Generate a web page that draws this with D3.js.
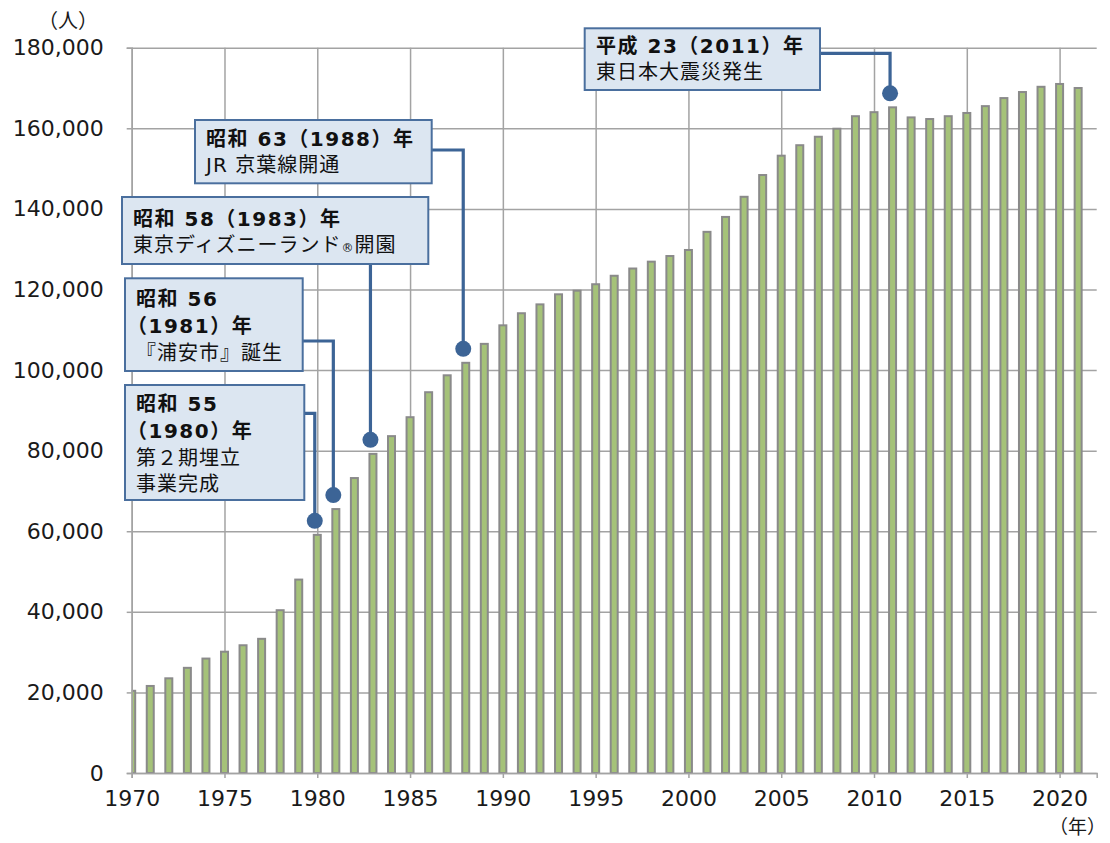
<!DOCTYPE html>
<html><head><meta charset="utf-8">
<script src="https://cdn.jsdelivr.net/npm/d3@7"></script>
<style>
html,body{margin:0;padding:0;background:#fff;}
svg{display:block;}
</style></head>
<body>
<svg id="chart" width="1110" height="843"></svg>
<script>
// ---- data ----
const years = [1970,1971,1972,1973,1974,1975,1976,1977,1978,1979,
  1980,1981,1982,1983,1984,1985,1986,1987,1988,1989,
  1990,1991,1992,1993,1994,1995,1996,1997,1998,1999,
  2000,2001,2002,2003,2004,2005,2006,2007,2008,2009,
  2010,2011,2012,2013,2014,2015,2016,2017,2018,2019,
  2020,2021];
const population = [20400,21600,23500,26100,28400,30100,31700,33300,40400,48000,
  59100,65500,73200,79200,83600,88300,94500,98700,101800,106500,
  111100,114100,116300,118800,119700,121300,123400,125200,126900,128300,
  129800,134300,138000,143000,148400,153200,155800,157900,159900,163000,
  164000,165200,162700,162300,163000,163800,165500,167500,169000,170300,
  171000,170000];
const yTicks = [0,20000,40000,60000,80000,100000,120000,140000,160000,180000];
const xTicks = [1970,1975,1980,1985,1990,1995,2000,2005,2010,2015,2020];
const yUnit = "（人）";
const xUnit = "（年）";
const annYears = [1980, 1981, 1983, 1988, 2011];
const annTitles = [["昭和 55", "（1980）年"], ["昭和 56", "（1981）年"], ["昭和 58（1983）年"], ["昭和 63（1988）年"], ["平成 23（2011）年"]];
const annNotes = [["第２期埋立", "事業完成"], ["『浦安市』誕生"], ["東京ディズニーランド®開園"], ["JR 京葉線開通"], ["東日本大震災発生"]];

// ---- layout ----
const annLayout = [
  {box:[125,385,304.3,500], conn:"right", cy:413.3, tx:136, base:[410.5,437.5,465,490.5]},
  {box:[125,278.3,302.7,371], conn:"right", cy:341, tx:136, base:[306,333,360]},
  {box:[122,197,428.3,264], conn:"bottom", tx:133, base:[226,251.5]},
  {box:[195,120,431.7,183.3], conn:"right", cy:150, tx:206, base:[146,172]},
  {box:[584.7,28.3,820,90], conn:"right", cy:53.3, tx:596, base:[52.5,79]}
];
const L = 131.7, R = 1096.7, T = 47.7, B = 773;
const numFont = "'DejaVu Sans', 'Noto Sans CJK JP', sans-serif";
const jpFont = "'DejaVu Sans', 'Noto Sans CJK JP', sans-serif";
const gridColor = "#a3a3a3";

const svg = d3.select("#chart");
const x = d3.scaleLinear().domain([1970, 2022]).range([L, R]);
const y = d3.scaleLinear().domain([0, 180000]).range([B, T]);

// clip
svg.append("defs").append("clipPath").attr("id","plotclip")
  .append("rect").attr("x", L).attr("y", 0).attr("width", R - L).attr("height", B);

// gridlines
const gy = svg.append("g").attr("transform", `translate(${L},0)`)
  .call(d3.axisLeft(y).tickValues(yTicks).tickSize(-(R - L)).tickFormat(""));
gy.select(".domain").remove();
gy.selectAll("line").attr("stroke", gridColor).attr("stroke-width", 1.5);
const gx = svg.append("g").attr("transform", `translate(0,${B})`)
  .call(d3.axisBottom(x).tickValues(xTicks).tickSize(-(B - T)).tickFormat(""));
gx.select(".domain").remove();
gx.selectAll("line").attr("stroke", gridColor).attr("stroke-width", 1.5);

// bars
const bw = 7;
svg.append("g").attr("clip-path","url(#plotclip)")
  .selectAll("rect").data(years).join("rect")
  .attr("x", (d) => x(d) - bw / 2)
  .attr("width", bw)
  .attr("y", (d, i) => y(population[i]))
  .attr("height", (d, i) => B - y(population[i]))
  .attr("fill", "#a5c279")
  .attr("stroke", "#8a8a8a")
  .attr("stroke-width", 2);

// axes
const ay = svg.append("g").attr("transform", `translate(${L},0)`)
  .call(d3.axisLeft(y).tickValues(yTicks).tickSize(5).tickPadding(23).tickFormat(d3.format(",")));
ay.select(".domain").attr("stroke", gridColor).attr("stroke-width", 1.5);
ay.selectAll("line").attr("stroke", gridColor).attr("stroke-width", 1.5);
ay.selectAll("text").attr("font-family", numFont).attr("font-size", 22).attr("fill", "#1a1a1a");

const ax = svg.append("g").attr("transform", `translate(0,${B})`)
  .call(d3.axisBottom(x).tickValues(xTicks).tickSize(5).tickPadding(12).tickFormat(d3.format("d")));
ax.select(".domain").attr("stroke", gridColor).attr("stroke-width", 1.5);
ax.selectAll("line").attr("stroke", gridColor).attr("stroke-width", 1.5);
ax.selectAll("text").attr("font-family", numFont).attr("font-size", 22).attr("fill", "#1a1a1a");

svg.append("text").attr("x", 68).attr("y", 28).attr("text-anchor","middle")
  .attr("font-family", jpFont).attr("font-size", 20).attr("fill","#1a1a1a").text(yUnit);
svg.append("text").attr("x", 1106).attr("y", 834).attr("text-anchor","end")
  .attr("font-family", jpFont).attr("font-size", 19).attr("fill","#1a1a1a").text(xUnit);

// annotations
const annColor = "#3c6496";
const ann = svg.append("g");
annYears.forEach((yr, i) => {
  const lay = annLayout[i];
  const v = population[years.indexOf(yr)];
  const dx = x(yr) - 2.5, dy = y(v) - 14;
  const [bx0, by0, bx1, by1] = lay.box;
  let path;
  if (lay.conn === "right") path = `M${bx1},${lay.cy}H${dx}V${dy}`;
  else path = `M${dx},${by1}V${dy}`;
  ann.append("path").attr("d", path).attr("fill","none").attr("stroke", annColor).attr("stroke-width", 3.2);
  ann.append("rect").attr("x", bx0).attr("y", by0).attr("width", bx1 - bx0).attr("height", by1 - by0)
    .attr("fill", "#dce6f1").attr("stroke", "#4a6f9e").attr("stroke-width", 2);
  ann.append("circle").attr("cx", dx).attr("cy", dy).attr("r", 8).attr("fill", annColor);
  const lines = annTitles[i].map(t => ({t, bold:true})).concat(annNotes[i].map(t => ({t, bold:false})));
  lines.forEach((ln, j) => {
    const txt = ann.append("text")
      .attr("x", lay.tx + (ln.t.startsWith("（") ? -9 : 0))
      .attr("y", lay.base[j])
      .attr("font-family", jpFont).attr("font-size", 20)
      .attr("font-weight", ln.bold ? "bold" : "normal")
      .attr("letter-spacing", ln.bold ? 1.5 : 1)
      .attr("fill", "#111");
    if (ln.t.includes("®")) {
      const parts = ln.t.split("®");
      txt.append("tspan").text(parts[0]);
      txt.append("tspan").attr("font-size", 12).text("®");
      txt.append("tspan").text(parts[1]);
    } else {
      txt.text(ln.t);
    }
  });
});
</script>
</body></html>
